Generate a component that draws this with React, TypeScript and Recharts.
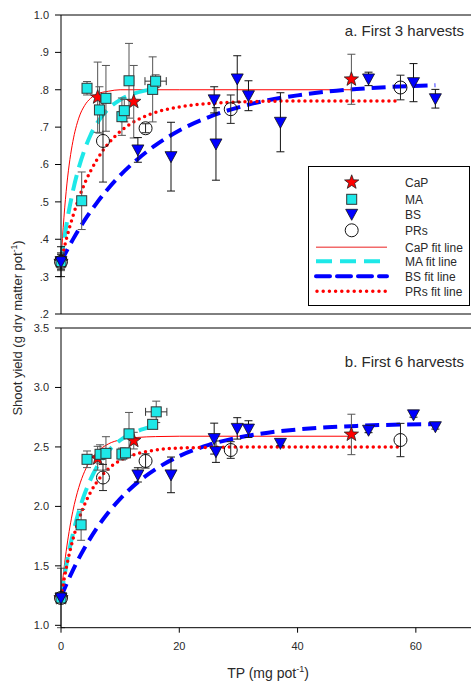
import React from 'react';
import { ComposedChart, Scatter, Line, XAxis, YAxis, ErrorBar, ReferenceLine } from 'recharts';

type Pt = { x: number; y: number; e?: number; xe?: number };
type Fp = { x: number; y: number };

// ---- Panel a: first 3 harvests (x = TP mg/pot, y = shoot yield, e = error) ----
const capA: Pt[] = [
  { x: 0, y: 0.34, e: 0.024 },
  { x: 6.2, y: 0.78, e: 0.094 },
  { x: 12.3, y: 0.768, e: 0.097 },
  { x: 49.1, y: 0.828, e: 0.067 },
];
const maA: Pt[] = [
  { x: 0, y: 0.34, e: 0.02 },
  { x: 3.5, y: 0.503, e: 0.077 },
  { x: 4.4, y: 0.804, e: 0.018 },
  { x: 6.5, y: 0.746, e: 0.062 },
  { x: 7.6, y: 0.777, e: 0.088 },
  { x: 10.3, y: 0.728, e: 0.05 },
  { x: 10.7, y: 0.744, e: 0.03 },
  { x: 11.5, y: 0.824, e: 0.1 },
  { x: 15.5, y: 0.801, e: 0.087 },
  { x: 16.0, y: 0.823, e: 0.017 },
];
const maAxErr: Pt[] = [{ x: 16.0, y: 0.823, xe: 1.8 }];
const bsA: Pt[] = [
  { x: 0, y: 0.34, e: 0.04 },
  { x: 13.0, y: 0.639, e: 0.033 },
  { x: 18.6, y: 0.621, e: 0.092 },
  { x: 25.9, y: 0.773, e: 0.035 },
  { x: 26.2, y: 0.655, e: 0.097 },
  { x: 29.8, y: 0.829, e: 0.062 },
  { x: 31.7, y: 0.784, e: 0.04 },
  { x: 37.1, y: 0.713, e: 0.079 },
  { x: 52.0, y: 0.829, e: 0.018 },
  { x: 59.6, y: 0.819, e: 0.051 },
  { x: 63.3, y: 0.776, e: 0.025 },
];
const prsA: Pt[] = [
  { x: 0, y: 0.34, e: 0.02 },
  { x: 7.1, y: 0.663, e: 0.11 },
  { x: 14.3, y: 0.697, e: 0.012 },
  { x: 28.7, y: 0.748, e: 0.038 },
  { x: 57.4, y: 0.806, e: 0.033 },
];

// fitted response curves, panel a
const capFitA: Fp[] = [
  { x: 0, y: 0.34 }, { x: 0.5, y: 0.459 }, { x: 1, y: 0.548 }, { x: 1.5, y: 0.613 },
  { x: 2, y: 0.661 }, { x: 3, y: 0.724 }, { x: 4, y: 0.758 }, { x: 5, y: 0.777 },
  { x: 6, y: 0.788 }, { x: 8, y: 0.796 }, { x: 10, y: 0.8 }, { x: 20, y: 0.8 }, { x: 49.1, y: 0.8 },
];
const maFitA: Fp[] = [
  { x: 0, y: 0.34 }, { x: 1, y: 0.446 }, { x: 2, y: 0.528 }, { x: 3, y: 0.591 },
  { x: 4, y: 0.64 }, { x: 5, y: 0.679 }, { x: 6, y: 0.708 }, { x: 8, y: 0.749 },
  { x: 10, y: 0.773 }, { x: 12, y: 0.788 }, { x: 14, y: 0.797 }, { x: 16, y: 0.802 },
];
const bsFitA: Fp[] = [
  { x: 0, y: 0.34 }, { x: 2, y: 0.399 }, { x: 4, y: 0.451 }, { x: 6, y: 0.496 },
  { x: 8, y: 0.536 }, { x: 10, y: 0.571 }, { x: 13, y: 0.615 }, { x: 16, y: 0.652 },
  { x: 20, y: 0.691 }, { x: 25, y: 0.727 }, { x: 30, y: 0.753 }, { x: 35, y: 0.772 },
  { x: 40, y: 0.785 }, { x: 45, y: 0.795 }, { x: 50, y: 0.802 }, { x: 55, y: 0.807 }, { x: 63.3, y: 0.812 },
];
const prsFitA: Fp[] = [
  { x: 0, y: 0.34 }, { x: 1, y: 0.406 }, { x: 2, y: 0.461 }, { x: 3, y: 0.509 },
  { x: 4, y: 0.549 }, { x: 6, y: 0.611 }, { x: 8, y: 0.656 }, { x: 10, y: 0.688 },
  { x: 12, y: 0.711 }, { x: 15, y: 0.734 }, { x: 20, y: 0.754 }, { x: 25, y: 0.763 },
  { x: 30, y: 0.767 }, { x: 40, y: 0.77 }, { x: 57.4, y: 0.77 },
];

// ---- Panel b: first 6 harvests ----
const capB: Pt[] = [
  { x: 0, y: 1.23, e: 0.03 },
  { x: 6.2, y: 2.405, e: 0.1 },
  { x: 12.3, y: 2.553, e: 0.07 },
  { x: 49.1, y: 2.605, e: 0.17 },
];
const maB: Pt[] = [
  { x: 0, y: 1.23, e: 0.25 },
  { x: 3.4, y: 1.845, e: 0.13 },
  { x: 4.4, y: 2.396, e: 0.07 },
  { x: 6.6, y: 2.438, e: 0.08 },
  { x: 7.6, y: 2.446, e: 0.14 },
  { x: 10.3, y: 2.44, e: 0.05 },
  { x: 10.9, y: 2.45, e: 0.04 },
  { x: 11.5, y: 2.61, e: 0.18 },
  { x: 15.5, y: 2.69, e: 0.03 },
  { x: 16.1, y: 2.795, e: 0.09 },
];
const maBxErr: Pt[] = [{ x: 16.1, y: 2.795, xe: 1.8 }];
const bsB: Pt[] = [
  { x: 0, y: 1.23, e: 0.03 },
  { x: 13.0, y: 2.265, e: 0.06 },
  { x: 18.6, y: 2.265, e: 0.15 },
  { x: 25.9, y: 2.57, e: 0.13 },
  { x: 26.2, y: 2.46, e: 0.09 },
  { x: 29.8, y: 2.656, e: 0.09 },
  { x: 31.7, y: 2.65, e: 0.07 },
  { x: 37.1, y: 2.53, e: 0.02 },
  { x: 52.0, y: 2.64, e: 0.02 },
  { x: 59.6, y: 2.77, e: 0.02 },
  { x: 63.3, y: 2.67, e: 0.02 },
];
const prsB: Pt[] = [
  { x: 0, y: 1.23, e: 0.02 },
  { x: 7.1, y: 2.243, e: 0.11 },
  { x: 14.3, y: 2.382, e: 0.06 },
  { x: 28.7, y: 2.474, e: 0.07 },
  { x: 57.4, y: 2.558, e: 0.14 },
];

const capFitB: Fp[] = [
  { x: 0, y: 1.24 }, { x: 0.5, y: 1.474 }, { x: 1, y: 1.667 }, { x: 1.5, y: 1.826 },
  { x: 2, y: 1.959 }, { x: 3, y: 2.158 }, { x: 4, y: 2.295 }, { x: 5, y: 2.388 },
  { x: 6, y: 2.452 }, { x: 8, y: 2.525 }, { x: 10, y: 2.56 }, { x: 13, y: 2.58 },
  { x: 16, y: 2.587 }, { x: 20, y: 2.59 }, { x: 49.1, y: 2.59 },
];
const maFitB: Fp[] = [
  { x: 0, y: 1.24 }, { x: 1, y: 1.532 }, { x: 2, y: 1.767 }, { x: 3, y: 1.955 },
  { x: 4, y: 2.106 }, { x: 5, y: 2.227 }, { x: 6, y: 2.325 }, { x: 8, y: 2.465 },
  { x: 10, y: 2.556 }, { x: 12, y: 2.614 }, { x: 14, y: 2.652 }, { x: 16, y: 2.676 },
];
const bsFitB: Fp[] = [
  { x: 0, y: 1.24 }, { x: 2, y: 1.463 }, { x: 4, y: 1.652 }, { x: 6, y: 1.813 },
  { x: 8, y: 1.948 }, { x: 10, y: 2.063 }, { x: 13, y: 2.204 }, { x: 16, y: 2.313 },
  { x: 20, y: 2.423 }, { x: 25, y: 2.517 }, { x: 30, y: 2.579 }, { x: 35, y: 2.62 },
  { x: 40, y: 2.647 }, { x: 45, y: 2.665 }, { x: 50, y: 2.677 }, { x: 55, y: 2.685 }, { x: 63.3, y: 2.692 },
];
const prsFitB: Fp[] = [
  { x: 0, y: 1.24 }, { x: 1, y: 1.509 }, { x: 2, y: 1.72 }, { x: 3, y: 1.887 },
  { x: 4, y: 2.017 }, { x: 6, y: 2.201 }, { x: 8, y: 2.315 }, { x: 10, y: 2.386 },
  { x: 12, y: 2.429 }, { x: 15, y: 2.466 }, { x: 20, y: 2.49 }, { x: 30, y: 2.499 }, { x: 57.4, y: 2.5 },
];

const X_TICKS = [0, 20, 40, 60];
const Y_TICKS_A = [0.2, 0.3, 0.4, 0.5, 0.6, 0.7, 0.8, 0.9, 1.0];
const Y_TICKS_B = [1.0, 1.5, 2.0, 2.5, 3.0, 3.5];
const SERIES_NAMES = ['CaP', 'MA', 'BS', 'PRs'];
const FIT_NAMES = ['CaP fit line', 'MA fit line', 'BS fit line', 'PRs fit line'];
const TITLE_A = 'a. First 3 harvests';
const TITLE_B = 'b. First 6 harvests';

const FONT = '"Liberation Sans", Arial, Helvetica, sans-serif';
const TEXT = '#2a2a2a';
const RED = '#ff0000';
const CYAN = '#1ee8e8';
const BLUE = '#0000ff';

// ---- marker shapes ----
const starPoints = (cx: number, cy: number, ro: number, ri: number) => {
  const pts: string[] = [];
  for (let i = 0; i < 10; i++) {
    const r = i % 2 === 0 ? ro : ri;
    const a = -Math.PI / 2 + (i * Math.PI) / 5;
    pts.push(`${(cx + r * Math.cos(a)).toFixed(2)},${(cy + r * Math.sin(a)).toFixed(2)}`);
  }
  return pts.join(' ');
};
const StarMark = ({ cx, cy }: any) =>
  cx == null ? <g /> : <polygon points={starPoints(cx, cy, 7.5, 3.1)} fill={RED} stroke="#222" strokeWidth={0.8} />;
const SquareMark = ({ cx, cy }: any) =>
  cx == null ? <g /> : <rect x={cx - 5} y={cy - 5} width={10} height={10} fill={CYAN} stroke="#333" strokeWidth={1} />;
const TriMark = ({ cx, cy }: any) =>
  cx == null ? <g /> : (
    <polygon points={`${cx - 6},${cy - 5} ${cx + 6},${cy - 5} ${cx},${cy + 6}`} fill={BLUE} stroke="#111" strokeWidth={0.8} />
  );
const CircleMark = ({ cx, cy }: any) =>
  cx == null ? <g /> : <circle cx={cx} cy={cy} r={6.5} fill="none" stroke="#111" strokeWidth={1} />;
const NoMark = () => <g />;

const fmtA = (v: number) => (v >= 0.999 ? '1.0' : '.' + Math.round(v * 10));
const fmtB = (v: number) => v.toFixed(1);

type PanelProps = {
  top: number;
  height: number;
  mTop: number;
  mBottom: number;
  xAxisH: number;
  yDomain: [number, number];
  yTicks: number[];
  yFmt: (v: number) => string;
  xLabels: boolean;
  pts: [Pt[], Pt[], Pt[], Pt[]];
  xErr: Pt[];
  fits: [Fp[], Fp[], Fp[], Fp[]];
};

const tickStyle = { fontSize: 11, fill: TEXT, fontFamily: FONT };

function Panel(p: PanelProps) {
  const [cap, ma, bs, prs] = p.pts;
  const [capF, maF, bsF, prsF] = p.fits;
  return (
    <div style={{ position: 'absolute', left: 0, top: p.top }}>
      <ComposedChart
        width={480}
        height={p.height}
        margin={{ top: p.mTop, right: 5, bottom: p.mBottom, left: 0 }}
      >
        <XAxis
          type="number"
          dataKey="x"
          domain={[0, 70]}
          ticks={X_TICKS}
          height={p.xAxisH}
          tickSize={5}
          tickMargin={9}
          tick={p.xLabels ? tickStyle : false}
          stroke="#000"
          tickLine={{ stroke: '#000' }}
          axisLine={{ stroke: '#000' }}
        />
        <YAxis
          type="number"
          dataKey="y"
          domain={p.yDomain}
          ticks={p.yTicks}
          tickFormatter={p.yFmt}
          width={61}
          tickSize={6}
          tickMargin={6}
          tick={tickStyle}
          stroke="#000"
          interval={0}
        />
        <ReferenceLine y={p.yDomain[1]} stroke="#000" strokeWidth={1} />
        <ReferenceLine x={70} stroke="#000" strokeWidth={1} />

        <Line data={capF} dataKey="y" type="monotone" stroke={RED} strokeWidth={1} dot={false} isAnimationActive={false} />
        <Line data={maF} dataKey="y" type="monotone" stroke={CYAN} strokeWidth={4} strokeDasharray="16 8" dot={false} isAnimationActive={false} />
        <Line data={bsF} dataKey="y" type="monotone" stroke={BLUE} strokeWidth={4} strokeDasharray="14 7" dot={false} isAnimationActive={false} />
        <Line data={prsF} dataKey="y" type="monotone" stroke={RED} strokeWidth={3.5} strokeDasharray="0 6" strokeLinecap="round" dot={false} isAnimationActive={false} />

        <Scatter data={p.xErr} dataKey="y" shape={NoMark} isAnimationActive={false}>
          <ErrorBar dataKey="xe" direction="x" width={4} stroke="#333" strokeWidth={1} />
        </Scatter>
        <Scatter data={cap} dataKey="y" shape={StarMark} isAnimationActive={false}>
          <ErrorBar dataKey="e" direction="y" width={4} stroke="#555" strokeWidth={1} />
        </Scatter>
        <Scatter data={ma} dataKey="y" shape={SquareMark} isAnimationActive={false}>
          <ErrorBar dataKey="e" direction="y" width={4} stroke="#555" strokeWidth={1} />
        </Scatter>
        <Scatter data={bs} dataKey="y" shape={TriMark} isAnimationActive={false}>
          <ErrorBar dataKey="e" direction="y" width={4} stroke="#111" strokeWidth={1} />
        </Scatter>
        <Scatter data={prs} dataKey="y" shape={CircleMark} isAnimationActive={false}>
          <ErrorBar dataKey="e" direction="y" width={4} stroke="#222" strokeWidth={1} />
        </Scatter>
      </ComposedChart>
    </div>
  );
}

function LegendBox() {
  const rows = [16.3, 33.3, 48.3, 64.3, 81.3, 95.3, 110.3, 125.3];
  const mx = 43.7;
  const tx = 97;
  const marks = [
    <StarMark key="m0" cx={mx} cy={rows[0]} />,
    <SquareMark key="m1" cx={mx} cy={rows[1]} />,
    <TriMark key="m2" cx={mx} cy={rows[2]} />,
    <CircleMark key="m3" cx={mx} cy={rows[3]} />,
  ];
  return (
    <svg width={163} height={141} style={{ position: 'absolute', left: 307.5, top: 166 }}>
      <rect x={0.5} y={0.5} width={161} height={139} fill="#fff" stroke="#000" strokeWidth={1} />
      {marks}
      <line x1={8} x2={79} y1={rows[4]} y2={rows[4]} stroke="#f26a6a" strokeWidth={1.5} />
      <line x1={8} x2={79} y1={rows[5]} y2={rows[5]} stroke={CYAN} strokeWidth={4} strokeDasharray="16 8" />
      <line x1={8} x2={79} y1={rows[6]} y2={rows[6]} stroke={BLUE} strokeWidth={4} strokeDasharray="14 7" strokeLinecap="round" />
      <line x1={9} x2={79} y1={rows[7]} y2={rows[7]} stroke={RED} strokeWidth={3.5} strokeDasharray="0 6.2" strokeLinecap="round" />
      {[...SERIES_NAMES, ...FIT_NAMES].map((t, i) => (
        <text key={t} x={tx} y={rows[i] + 4.3} fontSize={12} fontFamily={FONT} fill={TEXT}>
          {t}
        </text>
      ))}
    </svg>
  );
}

export default function App() {
  return (
    <div
      style={{
        position: 'fixed',
        left: 0,
        top: 0,
        width: 471,
        height: 684,
        overflow: 'hidden',
        background: '#fff',
      }}
    >
      <Panel
        top={0}
        height={330}
        mTop={15}
        mBottom={6}
        xAxisH={10}
        yDomain={[0.2, 1.0]}
        yTicks={Y_TICKS_A}
        yFmt={fmtA}
        xLabels={false}
        pts={[capA, maA, bsA, prsA]}
        xErr={maAxErr}
        fits={[capFitA, maFitA, bsFitA, prsFitA]}
      />
      <Panel
        top={310}
        height={374}
        mTop={18}
        mBottom={16.3}
        xAxisH={40}
        yDomain={[1.0, 3.5]}
        yTicks={Y_TICKS_B}
        yFmt={fmtB}
        xLabels={true}
        pts={[capB, maB, bsB, prsB]}
        xErr={maBxErr}
        fits={[capFitB, maFitB, bsFitB, prsFitB]}
      />
      <LegendBox />
      <svg width={471} height={684} style={{ position: 'absolute', left: 0, top: 0, pointerEvents: 'none' }}>
        <text x={464} y={36} textAnchor="end" fontSize={15} fontFamily={FONT} fill={TEXT}>
          {TITLE_A}
        </text>
        <text x={464} y={367} textAnchor="end" fontSize={15} fontFamily={FONT} fill={TEXT}>
          {TITLE_B}
        </text>
        <text x={268} y={678} textAnchor="middle" fontSize={14} fontFamily={FONT} fill={TEXT}>
          TP (mg pot
          <tspan fontSize={9} dy={-6}>-1</tspan>
          <tspan dy={6}>)</tspan>
        </text>
        <text
          transform="translate(22,328) rotate(-90)"
          textAnchor="middle"
          fontSize={13}
          fontFamily={FONT}
          fill={TEXT}
        >
          Shoot yield (g dry matter pot
          <tspan fontSize={8.5} dy={-5}>-1</tspan>
          <tspan dy={5}>)</tspan>
        </text>
      </svg>
    </div>
  );
}
